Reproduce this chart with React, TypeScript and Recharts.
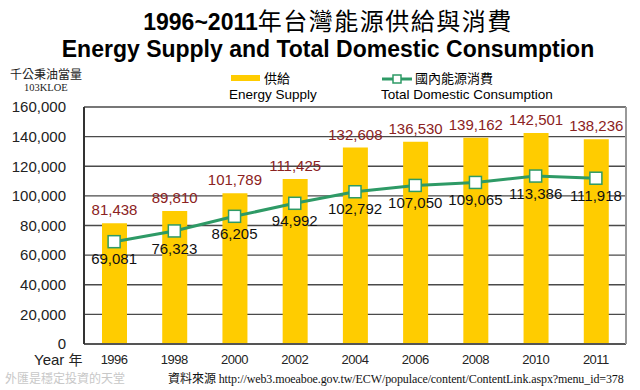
import {
  Bar,
  CartesianGrid,
  ComposedChart,
  LabelList,
  Line,
  XAxis,
  YAxis,
} from "recharts";

const years = ["1996", "1998", "2000", "2002", "2004", "2006", "2008", "2010", "2011"];
const supply = [81438, 89810, 101789, 111425, 132608, 136530, 139162, 142501, 138236];
const consumption = [69081, 76323, 86205, 94992, 102792, 107050, 109065, 113386, 111918];
const yTicks = [0, 20000, 40000, 60000, 80000, 100000, 120000, 140000, 160000];

const data = years.map((year, i) => ({
  year,
  supply: supply[i],
  consumption: consumption[i],
}));

const GREEN = "#2e9a66";
const YELLOW = "#ffcc00";
const ARIAL = "Arial, 'Liberation Sans', sans-serif";
const CJK = "'Noto Sans CJK TC', sans-serif";

const fmt = (v: any) => Number(v).toLocaleString("en-US");

function SquareDot(props: any) {
  const { cx, cy } = props;
  if (cx == null || cy == null) return null;
  return (
    <rect x={cx - 6} y={cy - 6} width={12} height={12} fill="#fff" stroke={GREEN} strokeWidth={1.5} />
  );
}

export default function App() {
  return (
    <div style={{ position: "absolute", left: 0, top: 0, width: 640, height: 390, background: "#fff", fontFamily: ARIAL }}>
      <div style={{ position: "absolute", left: 0, width: 640, top: 6, textAlign: "center", fontSize: 23, fontWeight: "bold", lineHeight: "28px", whiteSpace: "nowrap", paddingLeft: 16, boxSizing: "border-box" }}>
        1996~2011
        <span style={{ fontFamily: CJK, fontWeight: "normal", fontSize: 24, letterSpacing: 1.5 }}>年台灣能源供給與消費</span>
      </div>
      <div style={{ position: "absolute", left: 0, width: 640, top: 35, textAlign: "center", fontSize: 23, fontWeight: "bold", lineHeight: "28px", whiteSpace: "nowrap", paddingLeft: 16, boxSizing: "border-box" }}>
        Energy Supply and Total Domestic Consumption
      </div>

      <div style={{ position: "absolute", left: 10, top: 66, fontFamily: CJK, fontSize: 12, lineHeight: "16px", color: "#222" }}>千公秉油當量</div>
      <div style={{ position: "absolute", left: 24, top: 82, fontFamily: "'Liberation Serif', serif", fontSize: 10.5, lineHeight: "12px", color: "#222" }}>103KLOE</div>

      {/* legend */}
      <div style={{ position: "absolute", left: 231, top: 75, width: 29, height: 6, background: YELLOW }} />
      <div style={{ position: "absolute", left: 264, top: 70, fontFamily: CJK, fontSize: 13, lineHeight: "16px" }}>供給</div>
      <div style={{ position: "absolute", left: 229, top: 87, fontSize: 13.5, lineHeight: "16px" }}>Energy Supply</div>
      <svg style={{ position: "absolute", left: 380, top: 72 }} width={34} height={14}>
        <line x1={2} y1={7} x2={32} y2={7} stroke={GREEN} strokeWidth={3} />
        <rect x={13} y={3} width={8} height={8} fill="#fff" stroke={GREEN} strokeWidth={1.5} />
      </svg>
      <div style={{ position: "absolute", left: 415, top: 70, fontFamily: CJK, fontSize: 13, lineHeight: "16px" }}>國內能源消費</div>
      <div style={{ position: "absolute", left: 381, top: 87, fontSize: 13.5, lineHeight: "16px" }}>Total Domestic Consumption</div>

      <div style={{ position: "absolute", left: 0, top: 0 }}>
        <ComposedChart
          width={640}
          height={390}
          data={data}
          margin={{ top: 107, right: 0, bottom: 16, left: 14 }}
          barCategoryGap={0}
        >
          <CartesianGrid horizontal vertical={false} stroke="#4a4a4a" strokeWidth={1.3} />
          <XAxis
            dataKey="year"
            height={30}
            tickLine={false}
            tickSize={0}
            tickMargin={11}
            axisLine={{ stroke: "#555", strokeWidth: 2 }}
            tick={{ fill: "#222", fontSize: 13, letterSpacing: -0.5, fontFamily: ARIAL }}
          />
          <YAxis
            width={70}
            domain={[0, 160000]}
            ticks={yTicks}
            interval={0}
            tickFormatter={fmt}
            tickLine={false}
            tickSize={0}
            tickMargin={18}
            axisLine={{ stroke: "#333", strokeWidth: 2 }}
            tick={{ fill: "#222", fontSize: 15, fontFamily: ARIAL }}
          />
          <YAxis
            yAxisId="right"
            orientation="right"
            width={14}
            domain={[0, 160000]}
            tick={false}
            tickLine={false}
            axisLine={{ stroke: "#999", strokeWidth: 2 }}
          />
          <Bar dataKey="supply" fill={YELLOW} barSize={25} isAnimationActive={false}>
            <LabelList dataKey="supply" position="top" offset={8} formatter={fmt} fill="#8b2222" fontSize={15} fontFamily={ARIAL} />
          </Bar>
          <Line
            dataKey="consumption"
            stroke={GREEN}
            strokeWidth={3}
            dot={<SquareDot />}
            activeDot={false}
            isAnimationActive={false}
          >
            <LabelList dataKey="consumption" position="bottom" offset={12} formatter={fmt} fill="#111" fontSize={15} fontFamily={ARIAL} />
          </Line>
        </ComposedChart>
      </div>

      <div style={{ position: "absolute", left: 34, top: 351, fontSize: 15, lineHeight: "16px", color: "#222", whiteSpace: "nowrap" }}>
        Year <span style={{ fontFamily: CJK, fontSize: 14 }}>年</span>
      </div>
      <div style={{ position: "absolute", left: 5, top: 370, fontFamily: CJK, fontSize: 12, lineHeight: "16px", color: "#c8c8c8", whiteSpace: "nowrap" }}>外匯是穩定投資的天堂</div>
      <div style={{ position: "absolute", left: 168, top: 370, fontSize: 12, lineHeight: "16px", color: "#111", whiteSpace: "nowrap" }}>
        <span style={{ fontFamily: CJK }}>資料來源 </span>
        <span style={{ fontFamily: "'Liberation Serif', serif", fontSize: 12, letterSpacing: -0.1 }}>http://web3.moeaboe.gov.tw/ECW/populace/content/ContentLink.aspx?menu_id=378</span>
      </div>
    </div>
  );
}
